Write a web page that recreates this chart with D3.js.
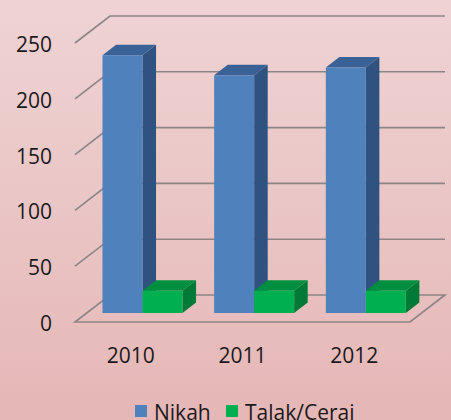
<!DOCTYPE html>
<html>
<head>
<meta charset="utf-8">
<script src="https://cdn.jsdelivr.net/npm/d3@7"></script>
<style>
  html, body { margin: 0; padding: 0; overflow: hidden; }
  text { font-family: "Open Sans", "Liberation Sans", sans-serif; fill: #1a1a1a; }
</style>
</head>
<body>
<div id="wrapper"></div>
<script>
const years = ['2010', '2011', '2012']
const seriesNames = ['Nikah', 'Talak/Cerai']
const nikah = [231, 213, 220]
const talak = [20, 20, 20]
const yTicks = [0, 50, 100, 150, 200, 250]

const colors = {
    'Nikah': { front: '#4f81bd', side: '#2f5280', top: '#3a6296' },
    'Talak/Cerai': { front: '#00b050', side: '#007a35', top: '#008f40' }
}

let dimensions = {
    width: 451,
    height: 420,
    left: 75,
    right: 410,
    floor: 322,
    top: 43,
    depthX: 35,
    depthY: -27
}

const svg = d3.select('#wrapper').append('svg')
    .attr('width', dimensions.width)
    .attr('height', dimensions.height)

// background
const grad = svg.append('defs').append('linearGradient')
    .attr('id', 'bg').attr('x1', 0).attr('y1', 0).attr('x2', 0).attr('y2', 1)
grad.append('stop').attr('offset', '0%').attr('stop-color', '#efd3d4')
grad.append('stop').attr('offset', '100%').attr('stop-color', '#e5b7b6')
svg.append('rect').attr('width', dimensions.width).attr('height', dimensions.height).attr('fill', 'url(#bg)')

const yScale = d3.scaleLinear().domain([0, 250]).range([dimensions.floor, dimensions.top])
const xScale = d3.scaleBand().domain(years).range([dimensions.left, dimensions.right])
const groupWidth = 80
const xInner = d3.scaleBand().domain(seriesNames).range([0, groupWidth])

// project a point at front-plane x / value / depth fraction
const proj = (x, v, d) => [x + d * dimensions.depthX, yScale(v) + d * dimensions.depthY]

// gridlines: left wall diagonal + back wall horizontal
const grid = svg.append('g')
    .attr('fill', 'none')
    .attr('stroke', '#8c8585')
    .attr('stroke-width', 1.6)

yTicks.filter(t => t > 0).forEach(t => {
    const a = proj(dimensions.left, t, 0)
    const b = proj(dimensions.left, t, 1)
    const c = proj(dimensions.right, t, 1)
    grid.append('path').attr('d', d3.line()([a, b, c]))
})

// floor
const floorPts = [
    proj(dimensions.left, 0, 0),
    proj(dimensions.right, 0, 0),
    proj(dimensions.right, 0, 1),
    proj(dimensions.left, 0, 1)
]
grid.append('path').attr('d', d3.line()(floorPts) + 'Z')

// bars
const d0 = 0.333
const d1 = 0.72
const barData = []
years.forEach((yr, i) => {
    barData.push({ year: yr, series: 'Nikah', value: nikah[i] })
    barData.push({ year: yr, series: 'Talak/Cerai', value: talak[i] })
})

const bars = svg.append('g')
barData.forEach(d => {
    const x0 = xScale(d.year) + (xScale.bandwidth() - groupWidth) / 2 + xInner(d.series)
    const x1 = x0 + xInner.bandwidth()
    const c = colors[d.series]
    const g = bars.append('g')
    // side
    g.append('path')
        .attr('d', d3.line()([proj(x1, 0, d0), proj(x1, 0, d1), proj(x1, d.value, d1), proj(x1, d.value, d0)]) + 'Z')
        .attr('fill', c.side)
    // top
    g.append('path')
        .attr('d', d3.line()([proj(x0, d.value, d0), proj(x1, d.value, d0), proj(x1, d.value, d1), proj(x0, d.value, d1)]) + 'Z')
        .attr('fill', c.top)
    // front
    const p0 = proj(x0, d.value, d0)
    const p1 = proj(x1, 0, d0)
    g.append('rect')
        .attr('x', p0[0]).attr('y', p0[1])
        .attr('width', p1[0] - p0[0]).attr('height', p1[1] - p0[1])
        .attr('fill', c.front)
})

// y tick labels
svg.append('g').selectAll('text')
    .data(yTicks)
    .enter()
    .append('text')
    .attr('x', 52)
    .attr('y', d => yScale(d) + 1)
    .attr('text-anchor', 'end')
    .attr('dominant-baseline', 'central')
    .attr('font-size', 21)
    .text(d => d)

// year labels
svg.append('g').selectAll('text')
    .data(years)
    .enter()
    .append('text')
    .attr('x', d => xScale(d) + xScale.bandwidth() / 2)
    .attr('y', 355)
    .attr('text-anchor', 'middle')
    .attr('dominant-baseline', 'central')
    .attr('font-size', 21)
    .text(d => d)

// legend
const legendX = [135, 226]
const legend = svg.append('g')
seriesNames.forEach((s, i) => {
    legend.append('rect')
        .attr('x', legendX[i]).attr('y', 405)
        .attr('width', 12).attr('height', 12)
        .attr('fill', colors[s].front)
    legend.append('text')
        .attr('x', legendX[i] + 19)
        .attr('y', 412)
        .attr('dominant-baseline', 'central')
        .attr('font-size', 21)
        .text(s)
})
</script>
</body>
</html>
